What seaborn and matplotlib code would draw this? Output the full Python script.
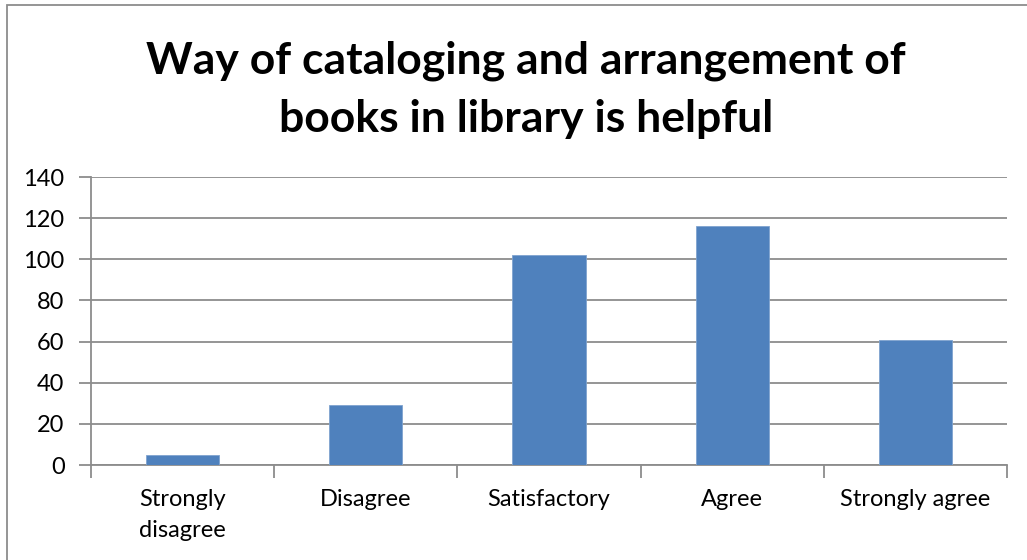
import matplotlib.pyplot as plt
import seaborn as sns
import pandas as pd
from matplotlib.patches import Rectangle

categories = ["Strongly\ndisagree", "Disagree", "Satisfactory", "Agree", "Strongly agree"]
responses = [5, 29, 102, 116, 61]
y_ticks = [0, 20, 40, 60, 80, 100, 120, 140]

df = pd.DataFrame({"category": categories, "count": responses})

sns.set_style("white")
plt.rcParams['font.family'] = ['Lato', 'DejaVu Sans']

fig = plt.figure(figsize=(10.27, 5.6), dpi=100)
ax = fig.add_axes([91 / 1027, 1 - 465 / 560, (1007 - 91) / 1027, (465 - 177) / 560])

sns.barplot(data=df, x="category", y="count", color="#4F81BD", width=0.4,
            saturation=1, edgecolor="#7FA3CF", linewidth=0.6, ax=ax, zorder=3)

ax.set_ylim(0, 140)
ax.set_yticks(y_ticks)
ax.set_xlim(-0.5, len(categories) - 0.5)
ax.yaxis.grid(True, color="#8C8C8C", linewidth=1.3, zorder=0)
ax.set_axisbelow(True)
ax.set_xlabel("")
ax.set_ylabel("")

for side in ["top", "right"]:
    ax.spines[side].set_visible(False)
for side in ["left", "bottom"]:
    ax.spines[side].set_color("#8C8C8C")
    ax.spines[side].set_linewidth(1.3)

# y ticks outward, x ticks at category boundaries
ax.tick_params(axis="y", which="major", direction="out", length=9, width=1.3,
               color="#8C8C8C", labelsize=17, labelcolor="black", pad=10, left=True)
ax.set_xticks([i + 0.5 for i in range(-1, len(categories))], minor=True)
ax.tick_params(axis="x", which="minor", direction="out", length=9, width=1.3,
               color="#8C8C8C", bottom=True)
ax.tick_params(axis="x", which="major", length=0, labelsize=17, labelcolor="black", pad=17)
for lbl in ax.get_xticklabels():
    lbl.set_linespacing(1.6)

fig.suptitle("Way of cataloging and arrangement of\nbooks in library is helpful",
             x=0.512, y=0.928, fontsize=32, fontweight="bold", linespacing=1.55,
             color="black")

fig.patches.append(Rectangle((7 / 1027, -0.01), 1.2, 1 - 5 / 560 + 0.01,
                             transform=fig.transFigure, fill=False,
                             edgecolor="#8C8C8C", linewidth=1.3))

fig.savefig("out.png", dpi=100)
